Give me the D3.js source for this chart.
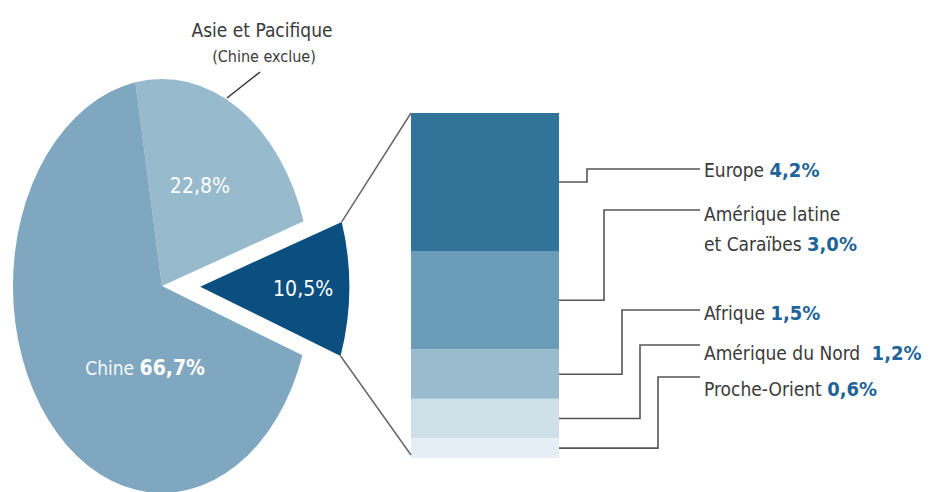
<!DOCTYPE html>
<html>
<head>
<meta charset="utf-8">
<script src="https://cdn.jsdelivr.net/npm/d3@7"></script>
<style>
  body { margin: 0; background: #fff; }
  svg text { font-family: "Liberation Sans Narrow", "DejaVu Sans Condensed", "Roboto", sans-serif; }
</style>
</head>
<body>
<svg id="chart" width="932" height="492"></svg>
<script>
// pie: world split
const pieNames = ["Asie et Pacifique", "Reste du monde", "Chine"];
const pieValues = [22.8, 10.5, 66.7];
const pieText = ["22,8%", "10,5%", "66,7%"];

// breakdown of the "reste du monde" slice
const regions = ["Europe", "Amérique latine|et Caraïbes", "Afrique", "Amérique du Nord", "Proche-Orient"];
const regionValues = [4.2, 3.0, 1.5, 1.2, 0.6];
const regionText = ["4,2%", "3,0%", "1,5%", "1,2%", "0,6%"];

const pieColors = ["#98bacd", "#0b4f80", "#7fa7bf"];
const barColors = ["#317399", "#6a9cb7", "#9abbce", "#cfdfe8", "#e5eef4"];

const svg = d3.select("#chart");
const cx = 162, cy = 286, R = 207, sx = 0.72;
const rad = Math.PI / 180;

const pie = d3.pie().sort(null).value(d => d)
    .startAngle(-10.3 * rad).endAngle(349.7 * rad);
const arcs = pie(pieValues);
const arc = d3.arc().innerRadius(0).outerRadius(R);

// offset of the exploded slice
function explode(d, i) {
    if (i !== 1) return [0, 0];
    const m = (d.startAngle + d.endAngle) / 2;
    return d3.pointRadial(m, 53);
}

// point on the squashed pie, in page coords
function toPage(p, i) {
    const o = explode(arcs[i], i);
    return [cx + (p[0] + o[0]) * sx, cy + p[1] + o[1]];
}

const g = svg.append("g").attr("transform", `translate(${cx},${cy}) scale(${sx},1)`);
g.selectAll("path")
    .data(arcs)
  .enter().append("path")
    .attr("d", arc)
    .attr("fill", (d, i) => pieColors[i])
    .attr("transform", (d, i) => `translate(${explode(d, i)})`);

// labels inside the pie
const white = svg.append("g").attr("fill", "#fff").attr("font-size", 21).attr("text-anchor", "middle");
const lp = [
    toPage(d3.pointRadial((arcs[0].startAngle + arcs[0].endAngle) / 2 - 3 * rad, 113), 0),
    toPage(d3.pointRadial((arcs[1].startAngle + arcs[1].endAngle) / 2, 143), 1),
    toPage(d3.pointRadial(196 * rad, 85), 2)
];
white.append("text").attr("x", lp[0][0]).attr("y", lp[0][1]).attr("dy", "0.35em").text(pieText[0]);
white.append("text").attr("x", lp[1][0]).attr("y", lp[1][1]).attr("dy", "0.35em").text(pieText[1]);
const ct = white.append("text").attr("x", lp[2][0]).attr("y", lp[2][1]).attr("dy", "0.35em");
ct.append("tspan").attr("font-size", 19).attr("opacity", 0.92).text("Chine ");
ct.append("tspan").attr("font-weight", 600).text(pieText[2]);

// Asie label above the pie
const dark = "#3a3a3a";
svg.append("text").attr("x", 262).attr("y", 37).attr("text-anchor", "middle")
    .attr("font-size", 19).attr("fill", dark).text(pieNames[0]);
svg.append("text").attr("x", 264).attr("y", 62).attr("text-anchor", "middle")
    .attr("font-size", 16).attr("fill", dark).text("(Chine exclue)");
svg.append("line").attr("x1", 227).attr("y1", 98).attr("x2", 260).attr("y2", 72)
    .attr("stroke", "#333").attr("stroke-width", 1.5);

// stacked box
const bx0 = 411, bx1 = 559;
const total = d3.sum(regionValues);
const y = d3.scaleLinear().domain([0, total]).range([113, 458]);
const cum = d3.cumsum(regionValues);
const segs = regionValues.map((v, i) => ({ v, y0: cum[i] - v, y1: cum[i] }));

svg.append("g").selectAll("rect")
    .data(segs)
  .enter().append("rect")
    .attr("x", bx0).attr("width", bx1 - bx0)
    .attr("y", d => y(d.y0))
    .attr("height", d => y(d.y1) - y(d.y0))
    .attr("fill", (d, i) => barColors[i]);

// lines from the slice corners to the box
const s = arcs[1];
const cTop = toPage(d3.pointRadial(s.startAngle, R), 1);
const cBot = toPage(d3.pointRadial(s.endAngle, R), 1);
const lineCol = "#666";
svg.append("line").attr("x1", cTop[0]).attr("y1", cTop[1]).attr("x2", bx0).attr("y2", y(0))
    .attr("stroke", lineCol).attr("stroke-width", 1.5);
svg.append("line").attr("x1", cBot[0]).attr("y1", cBot[1]).attr("x2", bx0).attr("y2", y(total) - 3)
    .attr("stroke", lineCol).attr("stroke-width", 1.5);

// elbow leaders and labels
const elbowX = [587, 604, 622, 640, 658];
const leadY = [169, 210, 310, 345, 377];
const textY = [170, 214, 313, 353, 389];
const lineEnd = 700;

svg.append("g").selectAll("path")
    .data(segs)
  .enter().append("path")
    .attr("fill", "none").attr("stroke", "#555").attr("stroke-width", 1.6)
    .attr("d", (d, i) => {
        const ym = (y(d.y0) + y(d.y1)) / 2;
        return `M${bx1},${ym}H${elbowX[i]}V${leadY[i]}H${lineEnd}`;
    });

const lab = svg.append("g").attr("font-size", 19).attr("fill", dark);
regions.forEach((r, i) => {
    const lines = r.split("|");
    const t = lab.append("text").attr("y", textY[i]);
    lines.forEach((l, k) => {
        t.append("tspan").attr("x", lineEnd + 4)
            .attr("dy", k === 0 ? "0.35em" : "1.6em")
            .text(l + (k === lines.length - 1 ? " " : ""));
    });
    t.append("tspan").attr("fill", "#1f6498").attr("font-size", 20).attr("font-weight", 600)
        .attr("dx", r === "Amérique du Nord" ? 6 : 0).text(regionText[i]);
});
</script>
</body>
</html>
